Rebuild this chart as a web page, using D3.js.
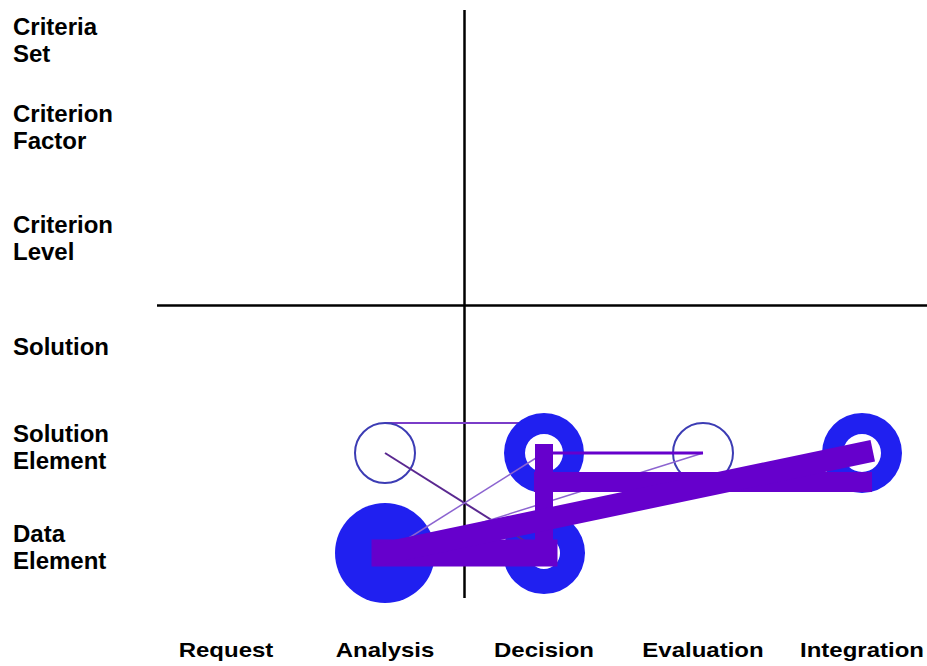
<!DOCTYPE html>
<html>
<head>
<meta charset="utf-8">
<script src="https://cdn.jsdelivr.net/npm/d3@7"></script>
<style>
  html, body { margin: 0; padding: 0; background: #ffffff; }
  svg { display: block; }
  text { font-family: "Liberation Sans", Arial, sans-serif; font-weight: bold; fill: #000; }
</style>
</head>
<body>
<script>
// ---------- data ----------
const stages = ["Request", "Analysis", "Decision", "Evaluation", "Integration"];
const levels = ["Data Element", "Solution Element", "Solution", "Criterion Level", "Criterion Factor", "Criteria Set"];
const levelValues = [0, 1, 2, 3.09, 4.2, 5.065];

// quadrant dividers (stage index / level value)
const dividerStage = 1.5;
const dividerLevel = 2.475;

// nodes
const nodeStage = ["Analysis", "Analysis", "Decision", "Decision", "Evaluation", "Integration"];
const nodeLevel = ["Solution Element", "Data Element", "Solution Element", "Data Element", "Solution Element", "Solution Element"];
const nodeKind  = ["open", "filled", "ring", "ring", "open", "ring"];
const nodeOuter = [6, 10, 8, 8.2, 6, 8];
const nodeInner = [0, 0, 3.8, 3.2, 0, 3.8];

// links (stage index, level value)
const linkFromStage = [1, 1, 1, 1, 2, 1, 2, 2, 1];
const linkFromLevel = [1.3, 1, 0, 0, 1, 0, 1, 0.71, 0];
const linkToStage   = [2, 2, 2, 3, 3, 2, 2, 4, 4];
const linkToLevel   = [1.3, 0, 1, 1, 1, 0, 0, 0.71, 1];
const linkStrength  = [2, 2, 1.5, 1.5, 3, 27, 18, 20, 22];

// ---------- layout ----------
const W = 927, H = 666;
const svg = d3.select("body").append("svg").attr("width", W).attr("height", H);
svg.append("rect").attr("width", W).attr("height", H).attr("fill", "#fff");

const x = d3.scaleLinear().domain([0, 4]).range([226, 862]);
const y = d3.scaleLinear().domain([0, 5]).range([553, 53]);
const r = d3.scaleLinear().domain([0, 10]).range([0, 50]);
const w = d3.scaleLinear().domain([0, 10]).range([0, 10]);

const levelY = name => y(levelValues[levels.indexOf(name)]);
const stageX = name => x(stages.indexOf(name));

// dividers
svg.append("line")
  .attr("x1", x(dividerStage)).attr("x2", x(dividerStage))
  .attr("y1", 10).attr("y2", 598)
  .attr("stroke", "#000").attr("stroke-width", 2.5);
svg.append("line")
  .attr("x1", 157).attr("x2", W)
  .attr("y1", y(dividerLevel)).attr("y2", y(dividerLevel))
  .attr("stroke", "#000").attr("stroke-width", 2.5);

// links data
const links = linkFromStage.map((s, i) => ({
  x1: x(s), y1: y(linkFromLevel[i]), x2: x(linkToStage[i]), y2: y(linkToLevel[i]),
  sw: w(linkStrength[i]), i
}));
const thinColors = ["#7a3cc8", "#5a2890", "#8c64d0", "#8c64d0", "#6600cc"];
function drawLinks(sel) {
  svg.selectAll(null).data(sel).enter().append("line")
    .attr("x1", d => d.x1).attr("y1", d => d.y1)
    .attr("x2", d => d.x2).attr("y2", d => d.y2)
    .attr("stroke", d => d.sw > 5 ? "#6600cc" : thinColors[d.i])
    .attr("stroke-width", d => d.sw)
    .attr("stroke-linecap", d => d.sw > 5 ? "square" : "butt");
}

// first link sits underneath the nodes
drawLinks(links.filter(d => d.i === 0));

// nodes
const nodes = nodeStage.map((s, i) => ({
  cx: stageX(s), cy: levelY(nodeLevel[i]), kind: nodeKind[i],
  ro: r(nodeOuter[i]), ri: r(nodeInner[i])
}));
const arc = d3.arc().startAngle(0).endAngle(2 * Math.PI);
nodes.forEach(n => {
  if (n.kind === "open") {
    svg.append("circle").attr("cx", n.cx).attr("cy", n.cy).attr("r", n.ro)
      .attr("fill", "none").attr("stroke", "#3c3cb4").attr("stroke-width", 2);
  } else {
    svg.append("path")
      .attr("transform", `translate(${n.cx},${n.cy})`)
      .attr("d", arc({ innerRadius: n.ri, outerRadius: n.ro }))
      .attr("fill", "#2020f0");
  }
});

// remaining thin links, then thick links
drawLinks(links.filter(d => d.i > 0 && d.sw <= 5));
drawLinks(links.filter(d => d.sw > 5));

// left labels
levels.forEach((name, i) => {
  const parts = name.split(" ");
  const cy = y(levelValues[i]) - 6;
  const b1 = cy - (parts.length - 1) * 13.5 + 8;
  const t = svg.append("text").attr("x", 13).attr("y", b1).style("font-size", "24px");
  parts.forEach((p, k) => {
    t.append("tspan").attr("x", 13).attr("y", b1 + k * 27).text(p);
  });
});

// bottom labels
stages.forEach((name, i) => {
  svg.append("text")
    .attr("transform", `translate(${x(i)},657) scale(1,0.85)`)
    .attr("text-anchor", "middle")
    .style("font-size", "24px")
    .text(name);
});
</script>
</body>
</html>
